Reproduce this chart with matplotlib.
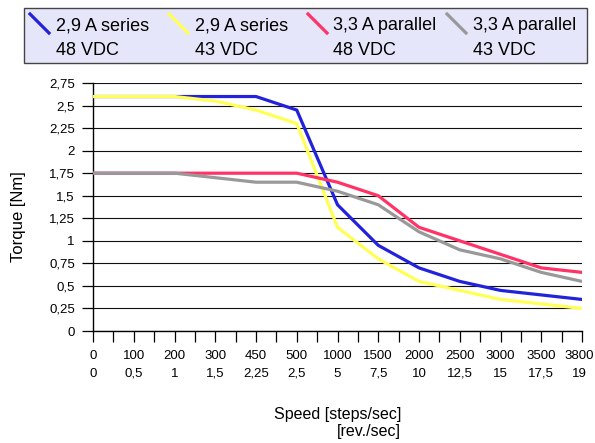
import matplotlib
matplotlib.use("Agg")
import matplotlib.pyplot as plt
from matplotlib.lines import Line2D
from matplotlib.patches import Rectangle
from matplotlib.transforms import ScaledTranslation

plt.rcParams['font.family'] = ['Liberation Sans', 'DejaVu Sans']

# ---- data ----
speed_steps = ["0", "100", "200", "300", "450", "500", "1000", "1500", "2000",
               "2500", "3000", "3500", "3800"]
speed_rev = ["0", "0,5", "1", "1,5", "2,25", "2,5", "5", "7,5", "10",
             "12,5", "15", "17,5", "19"]

series_names = ["2,9 A series\n48 VDC", "2,9 A series\n43 VDC",
                "3,3 A parallel\n48 VDC", "3,3 A parallel\n43 VDC"]
series_colors = ["#2222dd", "#ffff55", "#ff3366", "#999999"]

torque_29_48 = [2.6, 2.6, 2.6, 2.6, 2.6, 2.45, 1.4, 0.95, 0.7, 0.55, 0.45, 0.4, 0.35]
torque_29_43 = [2.6, 2.6, 2.6, 2.55, 2.45, 2.3, 1.15, 0.8, 0.55, 0.45, 0.35, 0.3, 0.25]
torque_33_48 = [1.75, 1.75, 1.75, 1.75, 1.75, 1.75, 1.65, 1.5, 1.15, 1.0, 0.85, 0.7, 0.65]
torque_33_43 = [1.75, 1.75, 1.75, 1.7, 1.65, 1.65, 1.55, 1.4, 1.1, 0.9, 0.8, 0.65, 0.55]
series_values = [torque_29_48, torque_29_43, torque_33_48, torque_33_43]

ytick_values = [0, 0.25, 0.5, 0.75, 1, 1.25, 1.5, 1.75, 2, 2.25, 2.5, 2.75]
ytick_labels = ["0", "0,25", "0,5", "0,75", "1", "1,25", "1,5", "1,75", "2",
                "2,25", "2,5", "2,75"]

# ---- figure ----
W, H = 595, 443
fig = plt.figure(figsize=(W / 100, H / 100), dpi=100)

def fx(px):
    return px / W

def fy(py):
    return 1 - py / H

ax = fig.add_axes([fx(93), fy(331), (582 - 93) / W, (331 - 83) / H])

xpos = list(range(len(speed_steps)))
for vals, col in zip(series_values, series_colors):
    ax.plot(xpos, vals, color=col, lw=2.3, zorder=3, solid_joinstyle='miter')

ax.set_xlim(0, len(speed_steps) - 1)
ax.set_ylim(0, 2.75)

# horizontal grid
for v in ytick_values:
    ax.axhline(v, color='#111111', lw=0.8, zorder=1)

ax.set_yticks(ytick_values)
ax.set_yticklabels(ytick_labels, fontsize=9.5)
ax.tick_params(axis='y', length=8, width=0.9, color='black', pad=5, direction='out')

xt_labels = [f"{a}\n{b}" for a, b in zip(speed_steps, speed_rev)]
ax.set_xticks(xpos)
ax.set_xticklabels(xt_labels, fontsize=9.5, linespacing=1.6)
ax.set_xticks([i + 0.5 for i in xpos[:-1]], minor=True)
ax.tick_params(axis='x', which='both', length=8, width=0.9, color='black',
               pad=6, direction='out')
# nudge the last label slightly left so it stays inside the canvas
last = ax.get_xticklabels()[-1]
last.set_transform(last.get_transform() + ScaledTranslation(-3 / 100, 0, fig.dpi_scale_trans))

for s in ['top', 'right']:
    ax.spines[s].set_visible(False)
ax.spines['left'].set_color('black')
ax.spines['bottom'].set_color('black')
ax.spines['left'].set_linewidth(1.0)
ax.spines['bottom'].set_linewidth(1.0)

# axis titles
fig.text(fx(19), fy(217), "Torque [Nm]", rotation=90, ha='center', va='center',
         fontsize=12)
fig.text(fx(401), fy(407), "Speed [steps/sec]\n[rev./sec]", ha='right',
         multialignment='right', va='top', fontsize=11.5)

# legend box
fig.patches.append(Rectangle((fx(24), fy(63)), (587 - 24) / W, (63 - 8) / H,
                             transform=fig.transFigure, facecolor='#e6e6fa',
                             edgecolor='#444444', lw=1.0, zorder=0))
handle_x = [30, 169, 308, 447]
text_x = [56, 195, 333, 473]
for hx, tx, name, col in zip(handle_x, text_x, series_names, series_colors):
    fig.lines.append(Line2D([fx(hx), fx(hx + 19)], [fy(14), fy(33)],
                            transform=fig.transFigure, color=col, lw=2.3))
    fig.text(fx(tx), fy(17.5), name, ha='left', va='top', fontsize=13,
             linespacing=1.6)

fig.savefig("out.png", dpi=100)
